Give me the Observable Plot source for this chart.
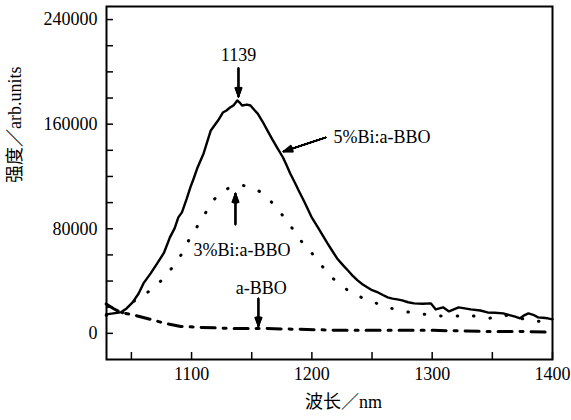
<!DOCTYPE html>
<html><head><meta charset="utf-8">
<script src="https://cdn.jsdelivr.net/npm/d3@7"></script>
<script src="https://cdn.jsdelivr.net/npm/@observablehq/plot@0.6"></script>
<style>body{margin:0;background:#fff} svg text{font-family:'Liberation Serif','Noto Sans CJK SC',serif !important;}</style>
</head><body><div id="chart"></div>
<script>
// 5%Bi:a-BBO (solid)
const wl5 = [1029, 1035, 1041, 1046, 1051, 1056, 1060, 1066, 1072, 1077, 1082, 1086, 1089, 1092, 1096, 1099, 1102, 1105, 1110, 1116, 1122, 1126, 1129, 1132, 1135, 1138, 1140, 1142, 1146, 1149, 1152, 1155, 1159, 1163, 1167, 1171, 1176, 1179, 1182, 1186, 1189, 1193, 1196, 1200, 1205, 1209, 1213, 1217, 1221, 1226, 1230, 1234, 1238, 1242, 1246, 1250, 1255, 1259, 1263, 1267, 1271, 1275, 1280, 1285, 1292, 1299, 1303, 1309, 1314, 1322, 1332, 1340, 1346, 1352, 1359, 1365, 1369, 1373, 1376, 1380, 1384, 1388, 1392, 1396, 1400];
const v5  = [14500, 15300, 16000, 19100, 23700, 30500, 38200, 45900, 54300, 61500, 73400, 80500, 88700, 92500, 103000, 111600, 119000, 126900, 137600, 155200, 162800, 168900, 170500, 172700, 174500, 178100, 176500, 174300, 175000, 174300, 171000, 168100, 162000, 155200, 148500, 142200, 134500, 128500, 122300, 115000, 109300, 102000, 96300, 88500, 81000, 75000, 68800, 63000, 57300, 52000, 48100, 44000, 40500, 37600, 35200, 33000, 31300, 29300, 27500, 26600, 26000, 25200, 23800, 22900, 22600, 22900, 18300, 19900, 16800, 19900, 18300, 17500, 16000, 15800, 15300, 13800, 12800, 11500, 13500, 15300, 14200, 12200, 11900, 11500, 10700];

// 3%Bi:a-BBO (dotted)
const wl3 = [1029, 1043, 1053, 1068, 1080, 1091, 1099, 1109, 1118, 1126, 1132, 1140, 1147, 1159, 1171, 1182, 1192, 1203, 1215, 1230, 1245, 1259, 1272, 1288, 1301, 1317, 1330, 1346, 1359, 1373, 1388, 1400];
const v3  = [13800, 16000, 25200, 34400, 45900, 59600, 73400, 87900, 101600, 108000, 111600, 113000, 112400, 107000, 95500, 82500, 69600, 58100, 44300, 32900, 26000, 21400, 17600, 15300, 13800, 13000, 13800, 11500, 13800, 11500, 9200, 9900];

// a-BBO (dash-dot)
const wlA = [1029, 1035, 1041, 1053, 1066, 1078, 1091, 1107, 1132, 1155, 1190, 1224, 1257, 1301, 1340, 1373, 1400];
const vA  = [22500, 19000, 16000, 13800, 10700, 7600, 5300, 4600, 3800, 3800, 3100, 2300, 2300, 2300, 1500, 1500, 800];

const xTicks = d3.range(1050, 1401, 50);
const xLabels = [1100, 1200, 1300, 1400];
const yTicks = d3.range(0, 240001, 20000);
const yLabels = [0, 80000, 160000, 240000];

const labelTexts = ["1139", "5%Bi:a-BBO", "3%Bi:a-BBO", "a-BBO"];
const labelX = [1139, 1218, 1101.6, 1158];
const labelY = [212500, 149800, 63400, 34400];
const labelAnchor = ["middle", "start", "start", "middle"];

const arrowX1 = [1139, 1211.4, 1136.5, 1155.6];
const arrowY1 = [203000, 149800, 83300, 26750];
const arrowX2 = [1139, 1176.4, 1136.5, 1155.6];
const arrowY2 = [181000, 139100, 107000, 5350];

const xTitle = "波长／nm";
const yTitle = "强度／arb.units";

const FONT = "'Liberation Serif', 'Noto Sans CJK SC', serif";

const s5 = wl5.map((x, i) => ({x, y: v5[i]}));
const s3 = wl3.map((x, i) => ({x, y: v3[i]}));
const sA = wlA.map((x, i) => ({x, y: vA[i]}));
const labels = labelTexts.map((t, i) => ({t, x: labelX[i], y: labelY[i], a: labelAnchor[i]}));
const arrows = arrowX1.map((x1, i) => ({x1, y1: arrowY1[i], x2: arrowX2[i], y2: arrowY2[i]}));

const arrowMarks = d3.range(0, 46, 6).map(a => Plot.arrow(arrows, {
  x1: "x1", y1: "y1", x2: "x2", y2: "y2", stroke: "#000", strokeWidth: 1.4,
  headAngle: a, headLength: 10
}));

const chart = Plot.plot({
  width: 571, height: 420,
  marginLeft: 106, marginRight: 19, marginTop: 6, marginBottom: 61,
  x: {domain: [1029.3, 1400]},
  y: {domain: [-20000, 250000]},
  style: {fontFamily: FONT, fontSize: "18px", color: "#000", background: "#fff", overflow: "visible"},
  marks: [
    Plot.axisX({ticks: xTicks, tickSize: -7, tickFormat: () => "", strokeWidth: 1.5, label: null}),
    Plot.axisX({ticks: xLabels, tickSize: 0, tickPadding: 8, tickFormat: d => String(d), label: null, fontSize: 18, fontFamily: FONT}),
    Plot.axisY({ticks: yTicks, tickSize: -7, tickFormat: () => "", strokeWidth: 1.5, label: null}),
    Plot.axisY({ticks: yLabels, tickSize: 0, tickPadding: 9, tickFormat: d => String(d), label: null, fontSize: 18, fontFamily: FONT}),
    Plot.line(sA, {x: "x", y: "y", stroke: "#000", strokeWidth: 3, strokeDasharray: "14,8,3,8", curve: "linear"}),
    Plot.line(s3, {x: "x", y: "y", stroke: "#000", strokeWidth: 3, strokeDasharray: "0.5,16", strokeLinecap: "round", curve: "catmull-rom"}),
    Plot.line(s5, {x: "x", y: "y", stroke: "#000", strokeWidth: 2.4, strokeLinejoin: "round"}),
    ...arrowMarks,
    Plot.text(labels.filter(d => d.a === "middle"), {x: "x", y: "y", text: "t", textAnchor: "middle", fontSize: 18, fontFamily: FONT, fill: "#000"}),
    Plot.text(labels.filter(d => d.a === "start"), {x: "x", y: "y", text: "t", textAnchor: "start", fontSize: 18, fontFamily: FONT, fill: "#000"}),
    Plot.text([xTitle], {frameAnchor: "bottom", dy: 48, dx: 14, text: d => d, fontSize: 18, fontFamily: FONT, fill: "#000"}),
    Plot.text([yTitle], {frameAnchor: "left", rotate: -90, dx: -91, text: d => d, fontSize: 18, fontFamily: FONT, fill: "#000"}),
    Plot.frame({stroke: "#000", strokeWidth: 2})
  ]
});
document.getElementById("chart").appendChild(chart);
</script>
</body></html>
